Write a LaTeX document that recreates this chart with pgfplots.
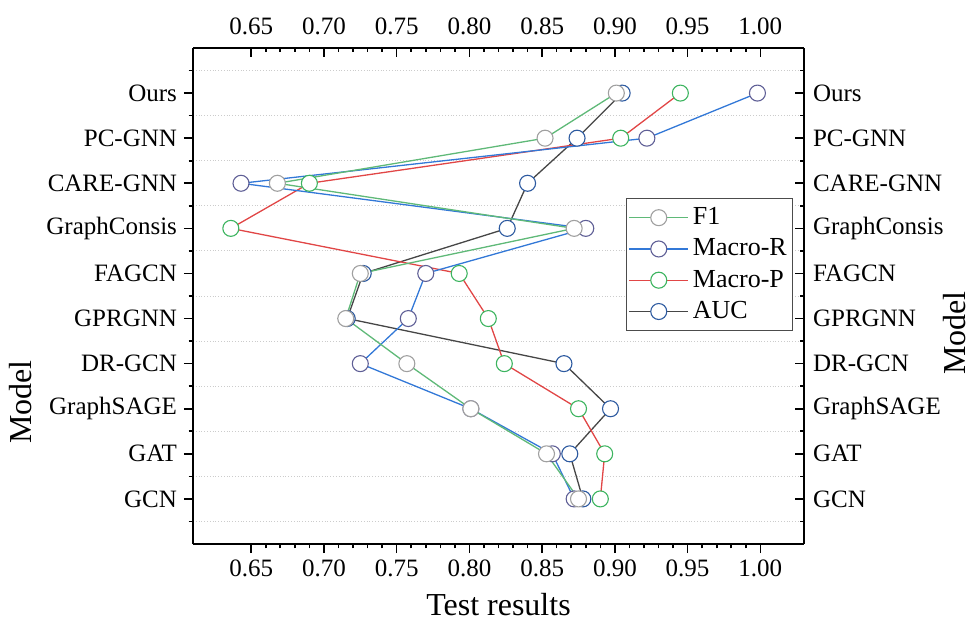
\documentclass[border=0pt]{standalone}
\usepackage{fontspec}
\setmainfont{Liberation Serif}
\usepackage{pgfplots}
\pgfplotsset{compat=1.18}
\definecolor{fline}{RGB}{95,185,120}
\definecolor{fmark}{RGB}{160,160,160}
\definecolor{rline}{RGB}{50,120,215}
\definecolor{rmark}{RGB}{95,95,150}
\definecolor{pline}{RGB}{225,70,70}
\definecolor{pmark}{RGB}{60,180,95}
\definecolor{aline}{RGB}{70,70,70}
\definecolor{amark}{RGB}{45,90,160}
\newcommand{\lgf}{\fontsize{13}{15.5}\selectfont}
\pgfplotsset{
  common/.style={
    at={(96.5pt,42pt)}, anchor=south west, scale only axis,
    width=305.5pt, height=248pt,
    xmin=0.61, xmax=1.03, ymin=0, ymax=11,
    axis line style={-, line width=0.8pt},
    major tick length=4.5pt, minor tick length=2.2pt,
    tick style={black, line width=0.8pt},
    xtick={0.65,0.70,0.75,0.80,0.85,0.90,0.95,1.00}, minor x tick num=4,
    ytick={1,2,3,4,5,6,7,8,9,10},
    yticklabels={GCN,GAT,GraphSAGE,DR-GCN,GPRGNN,FAGCN,GraphConsis,CARE-GNN,PC-GNN,Ours},
    minor ytick={0.5,1.5,2.5,3.5,4.5,5.5,6.5,7.5,8.5,9.5,10.5},
    /pgf/number format/fixed, /pgf/number format/fixed zerofill,
    /pgf/number format/precision=2, /pgf/number format/assume math mode=true,
    tick label style={font=\fontsize{12.5}{15}\selectfont},
    label style={font=\fontsize{16}{19}\selectfont},
  }
}
\begin{document}
\begin{tikzpicture}
\useasboundingbox (0,0) rectangle (486.5pt,314pt);
\begin{axis}[common,
  axis x line*=bottom, axis y line*=left, tick align=outside,
  yminorgrids, minor grid style={densely dotted, gray!40, line width=0.5pt},
  xlabel={Test results}, ylabel={Model},
  xlabel style={at={(axis description cs:0.5,-0.123)}, anchor=center},
  ylabel style={at={(axis description cs:-0.283,0.286)}, anchor=center},
  reverse legend,
  legend style={at={(0.7087,0.6976)}, anchor=north west, draw=black!70, line width=0.6pt,
    font=\lgf, nodes={font=\lgf, inner sep=2pt}, row sep=1.6pt, inner xsep=1pt, inner ysep=2.5pt},
  legend cell align=left,
  legend image code/.code={\draw[mark repeat=2,mark phase=2,#1] plot coordinates {(0pt,0pt) (14.75pt,0pt) (29.5pt,0pt)};},
  every axis plot/.append style={line width=0.65pt, mark=*, mark size=4pt},
]
\addplot[aline, mark options={fill=white, draw=amark, line width=0.55pt}] coordinates {
(0.905,10) (0.874,9) (0.840,8) (0.826,7) (0.727,6) (0.716,5) (0.865,4) (0.897,3) (0.869,2) (0.878,1)};
\addlegendentry{\lgf AUC}
\addplot[pline, mark options={fill=white, draw=pmark, line width=0.55pt}] coordinates {
(0.945,10) (0.904,9) (0.690,8) (0.636,7) (0.793,6) (0.813,5) (0.824,4) (0.875,3) (0.893,2) (0.890,1)};
\addlegendentry{\lgf Macro-P}
\addplot[rline, mark options={fill=white, draw=rmark, line width=0.55pt}] coordinates {
(0.998,10) (0.922,9) (0.643,8) (0.880,7) (0.770,6) (0.758,5) (0.725,4) (0.801,3) (0.857,2) (0.872,1)};
\addlegendentry{\lgf Macro-R}
\addplot[fline, mark options={fill=white, draw=fmark, line width=0.55pt}] coordinates {
(0.901,10) (0.852,9) (0.668,8) (0.872,7) (0.725,6) (0.715,5) (0.757,4) (0.801,3) (0.853,2) (0.875,1)};
\addlegendentry{\lgf F1}
\end{axis}
\begin{axis}[common,
  axis x line*=top, axis y line*=right, tick align=inside,
  xticklabel style={yshift=3pt},
  yticklabel style={xshift=1pt},
  ylabel={Model},
  ylabel style={at={(axis description cs:1.247,0.425)}, anchor=center, rotate=0},
]
\end{axis}
\end{tikzpicture}
\end{document}
